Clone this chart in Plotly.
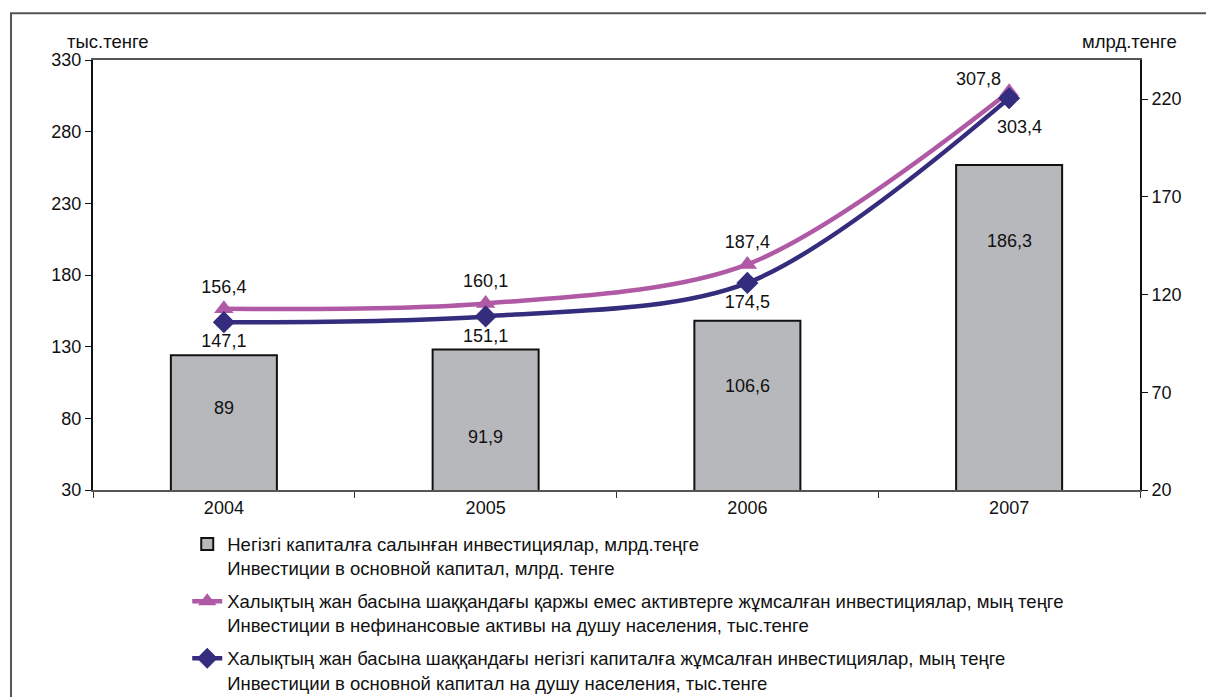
import plotly.graph_objects as go

# ---- data ----
years = ["2004", "2005", "2006", "2007"]
fixed_capital_bln = [89, 91.9, 106.6, 186.3]            # млрд. тенге (right axis)
nonfin_assets_per_capita = [156.4, 160.1, 187.4, 307.8]  # тыс. тенге (left axis)
fixed_capital_per_capita = [147.1, 151.1, 174.5, 303.4]  # тыс. тенге (left axis)

name_bar = "Негізгі капиталға салынған инвестициялар, млрд.теңге<br>Инвестиции в основной капитал, млрд. тенге"
name_pink = ("Халықтың жан басына шаққандағы қаржы емес активтерге жұмсалған инвестициялар, мың теңге"
             "<br>Инвестиции в нефинансовые активы на душу населения, тыс.тенге")
name_navy = ("Халықтың жан басына шаққандағы негізгі капиталға жұмсалған инвестициялар, мың теңге"
             "<br>Инвестиции в основной капитал на душу населения, тыс.тенге")

left_ticks = [30, 80, 130, 180, 230, 280, 330]
right_ticks = [20, 70, 120, 170, 220]

# label placement inside bars (style, as fraction of bar height above axis base)
bar_label_frac = [0.609, 0.379, 0.612, 0.766]


def fmt(v):
    return f"{v:g}".replace(".", ",")


FONT = "Arial, 'Liberation Sans', sans-serif"
PINK = "#B05AA6"
NAVY = "#342C7C"
TXT = "#111111"

W, H = 1206, 720          # page window is 697 tall; the lower part is cut like the reference
PLOT_BOTTOM_PX = 490

fig = go.Figure()

fig.add_trace(go.Bar(
    x=years, y=fixed_capital_bln, name=name_bar, yaxis="y",
    width=0.405, marker=dict(color="#B7B8BC", line=dict(color=TXT, width=2)),
    legendgroup="a",
))

last = len(years) - 1
fig.add_trace(go.Scatter(
    x=years, y=nonfin_assets_per_capita, name=name_pink, yaxis="y2",
    mode="lines+markers+text", line=dict(color=PINK, width=4.5, shape="spline", smoothing=0.9),
    marker=dict(symbol="triangle-up", size=17, color=PINK),
    text=[fmt(v) if i < last else "" for i, v in enumerate(nonfin_assets_per_capita)],
    textposition="top center",
    textfont=dict(size=18, color=TXT, family=FONT),
    legendgroup="b",
))

fig.add_trace(go.Scatter(
    x=years, y=fixed_capital_per_capita, name=name_navy, yaxis="y2",
    mode="lines+markers+text", line=dict(color=NAVY, width=4.5, shape="spline", smoothing=0.9),
    marker=dict(symbol="diamond", size=17, color=NAVY),
    text=[fmt(v) if i < last else "" for i, v in enumerate(fixed_capital_per_capita)],
    textposition="bottom center",
    textfont=dict(size=18, color=TXT, family=FONT),
    legendgroup="c",
))

# 2007 line labels, offset from their points
fig.add_annotation(x=last, y=nonfin_assets_per_capita[last], xref="x", yref="y2",
                   text=fmt(nonfin_assets_per_capita[last]), showarrow=False,
                   xshift=-31, yshift=13, font=dict(size=18, color=TXT, family=FONT))
fig.add_annotation(x=last, y=fixed_capital_per_capita[last], xref="x", yref="y2",
                   text=fmt(fixed_capital_per_capita[last]), showarrow=False,
                   xshift=10, yshift=-29, font=dict(size=18, color=TXT, family=FONT))

# bar value labels (inside bars)
base = right_ticks[0]
for i, (v, f) in enumerate(zip(fixed_capital_bln, bar_label_frac)):
    fig.add_annotation(x=i, y=base + (v - base) * f, xref="x", yref="y",
                       text=fmt(v), showarrow=False,
                       font=dict(size=18, color=TXT, family=FONT))

# axis unit titles
fig.add_annotation(x=0.0143, y=1.042, xref="paper", yref="paper", text="тыс.тенге",
                   showarrow=False, yanchor="middle", xanchor="center",
                   font=dict(size=18.5, color=TXT, family=FONT))
fig.add_annotation(x=0.990, y=1.042, xref="paper", yref="paper", text="млрд.тенге",
                   showarrow=False, yanchor="middle", xanchor="center",
                   font=dict(size=18.5, color=TXT, family=FONT))

# outer frame (cut by page edges)
fig.add_shape(type="rect", xref="paper", yref="paper",
              x0=-0.0783, x1=2.0, y0=-2.0, y1=1.109,
              line=dict(color="#555555", width=2), fillcolor="rgba(0,0,0,0)", layer="below")

fig.update_layout(
    width=W, height=H,
    margin=dict(l=93, r=66, t=60, b=H - PLOT_BOTTOM_PX),
    paper_bgcolor="white", plot_bgcolor="white",
    font=dict(family=FONT, size=18, color=TXT),
    showlegend=True,
    xaxis=dict(type="category", showline=True, linecolor="#555555", linewidth=2, mirror=True,
               ticks="outside", tickson="boundaries", ticklen=6, tickcolor="#333333",
               showgrid=False, tickfont=dict(size=18), range=[-0.5, 3.5]),
    yaxis=dict(side="right", range=[20, 240], tickvals=right_ticks, showgrid=False,
               showline=True, linecolor=TXT, linewidth=2, ticks="outside", ticklen=6,
               tickcolor=TXT, zeroline=False, tickfont=dict(size=18)),
    yaxis2=dict(side="left", overlaying="y", range=[30, 330], tickvals=left_ticks, showgrid=False,
                showline=True, linecolor=TXT, linewidth=2, ticks="outside", ticklen=6,
                tickcolor=TXT, zeroline=False, tickfont=dict(size=18)),
    legend=dict(orientation="v", x=0.090, y=-0.0826, xanchor="left", yanchor="top",
                valign="top", tracegroupgap=6, traceorder="grouped",
                font=dict(size=18.5, color=TXT, family=FONT),
                bgcolor="rgba(0,0,0,0)"),
)

fig.write_html("out.html", config={"displayModeBar": False},
               post_script="document.body.style.margin='0';document.body.style.overflow='hidden';")
